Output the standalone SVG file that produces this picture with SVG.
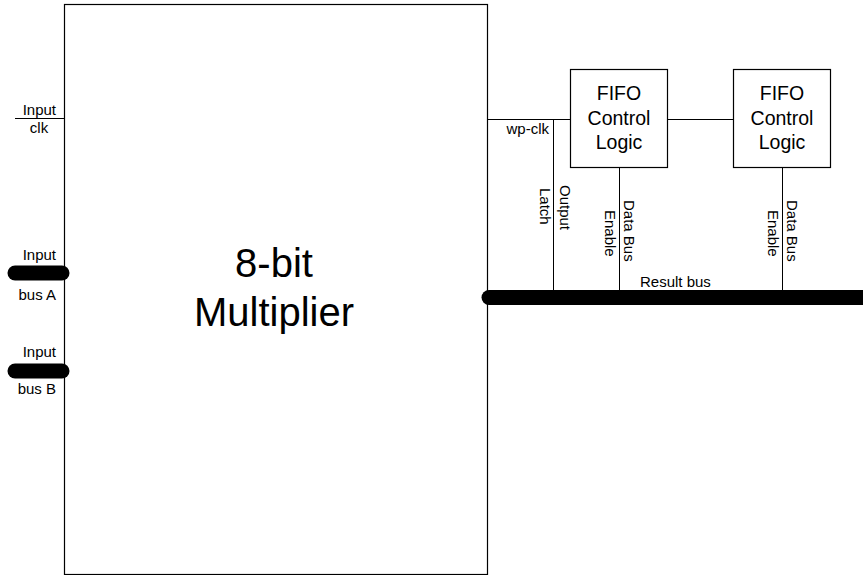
<svg xmlns="http://www.w3.org/2000/svg" width="863" height="575" viewBox="0 0 863 575">
<style>
.box{fill:#fff;stroke:#000;stroke-width:1.2}
.ln{stroke:#000;stroke-width:1;fill:none}
.bus{stroke:#000;stroke-width:15;stroke-linecap:round;fill:none}
text{font-family:"Liberation Sans",Arial,sans-serif;fill:#000}
.s{font-size:15px}
.m{font-size:19.5px;text-anchor:middle}
.l{font-size:40px;text-anchor:middle}
</style>
<rect width="863" height="575" fill="#fff"/>
<g id="multiplier">
<rect class="box" x="64.5" y="4.5" width="423" height="570"/>
<text class="l" x="274" y="277">8-bit</text>
<text class="l" x="274" y="325.5">Multiplier</text>
</g>
<g id="fifo1">
<rect class="box" x="570.5" y="69.5" width="97" height="98"/>
<text class="m" x="619" y="100">FIFO</text>
<text class="m" x="619" y="124.5">Control</text>
<text class="m" x="619" y="149">Logic</text>
</g>
<g id="fifo2">
<rect class="box" x="733.5" y="69.5" width="97" height="98"/>
<text class="m" x="782" y="100">FIFO</text>
<text class="m" x="782" y="124.5">Control</text>
<text class="m" x="782" y="149">Logic</text>
</g>
<g id="connectors">
<line class="ln" x1="15" y1="118.5" x2="64" y2="118.5"/>
<line class="bus" x1="15" y1="273" x2="62" y2="273"/>
<line class="bus" x1="15" y1="371" x2="62" y2="371"/>
<line class="ln" x1="487" y1="119.5" x2="570" y2="119.5"/>
<line class="ln" x1="667" y1="119.5" x2="733" y2="119.5"/>
<line class="ln" x1="553.5" y1="119.5" x2="553.5" y2="292"/>
<line class="ln" x1="619.5" y1="167" x2="619.5" y2="292"/>
<line class="ln" x1="782.5" y1="167" x2="782.5" y2="292"/>
<line class="bus" x1="489" y1="297.5" x2="880" y2="297.5"/>
</g>
<g id="labels">
<text class="s" x="56" y="115" text-anchor="end">Input</text>
<text class="s" x="39" y="133" text-anchor="middle">clk</text>
<text class="s" x="56" y="259.5" text-anchor="end">Input</text>
<text class="s" x="56" y="299.5" text-anchor="end">bus A</text>
<text class="s" x="56" y="357" text-anchor="end">Input</text>
<text class="s" x="56" y="394" text-anchor="end">bus B</text>
<text class="s" x="549" y="134" text-anchor="end">wp-clk</text>
<text class="s" transform="translate(560,185) rotate(90)">Output</text>
<text class="s" transform="translate(540,188) rotate(90)">Latch</text>
<text class="s" transform="translate(624,200) rotate(90)">Data Bus</text>
<text class="s" transform="translate(605,210) rotate(90)">Enable</text>
<text class="s" transform="translate(787,200) rotate(90)">Data Bus</text>
<text class="s" transform="translate(768,210) rotate(90)">Enable</text>
<text class="s" x="640" y="287">Result bus</text>
</g>
</svg>
